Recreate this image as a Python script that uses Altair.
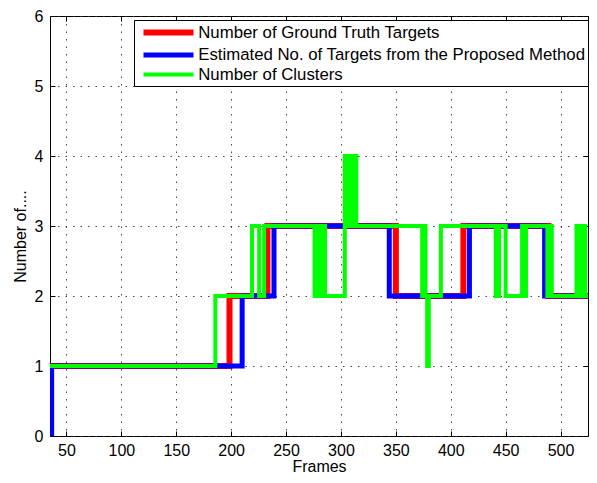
import altair as alt
import pandas as pd

# ---- data ----
x_ticks = [50, 100, 150, 200, 250, 300, 350, 400, 450, 500]
y_ticks = [0, 1, 2, 3, 4, 5, 6]

series_names = [
    "Number of Ground Truth Targets",
    "Estimated No. of Targets from the Proposed Method",
    "Number of Clusters",
]
series_colors = ["#ff0000", "#0000ff", "#00ff00"]
series_widths = [6, 4, 2]

truth_frames = [35, 198.5, 233, 350, 411.5, 489, 525]
truth_counts = [1, 2, 3, 2, 3, 2, 2]

est_frames = [35, 36.5, 210, 239, 344, 417, 485.5, 525]
est_counts = [0, 1, 2, 3, 2, 3, 2, 2]

cluster_frames = [35, 185.6, 219, 225.5, 230, 276, 279, 281, 283, 285.5,
                  303.5, 306, 307.5, 309.5, 311.5, 314, 374, 375.5, 377, 378.5,
                  380, 391, 441, 444, 450, 465, 467, 468.5, 488, 490,
                  492, 514.5, 517, 519.5, 522.5, 525]
cluster_counts = [1, 2, 3, 2, 3, 2, 3, 2, 3, 2,
                  4, 3, 4, 3, 4, 3, 2, 3, 2, 1,
                  2, 3, 2, 3, 2, 3, 2, 3, 2, 3,
                  2, 3, 2, 3, 2, 2]


def frame(frames, counts, name):
    return pd.DataFrame({"frame": frames, "count": counts, "series": [name] * len(frames)})


df_truth = frame(truth_frames, truth_counts, series_names[0])
df_est = frame(est_frames, est_counts, series_names[1])
df_clu = frame(cluster_frames, cluster_counts, series_names[2])

FONT = "Liberation Sans"

xscale = alt.Scale(domain=[35, 525], nice=False, zero=False)
yscale = alt.Scale(domain=[0, 6], nice=False, zero=True)
cscale = alt.Scale(domain=series_names, range=series_colors)
wscale = alt.Scale(domain=series_names, range=series_widths)

legend = alt.Legend(
    title=None, orient="none", legendX=84, legendY=4,
    symbolType="M-3.536,0H3.536", symbolSize=200, symbolOffset=22,
    labelOffset=19.2, labelFontSize=16.8, labelFont=FONT, labelColor="black",
    labelLimit=0, padding=2, rowPadding=0,
    strokeColor="black", fillColor="white",
)

grid_kw = dict(grid=True, gridColor="#333333", gridDash=[1.5, 6], gridWidth=1, gridOpacity=0.9)

x_main = alt.Axis(orient="bottom", values=x_ticks, ticks=False, tickSize=0, domain=False,
                  labelPadding=6, labelFontSize=16, labelFont=FONT, labelColor="black",
                  title="Frames", titleFontSize=16, titleFont=FONT, titleFontWeight="normal",
                  titleColor="black", titleBaseline="alphabetic", titleY=35.5, **grid_kw)
y_main = alt.Axis(orient="left", values=y_ticks, ticks=False, tickSize=0, domain=False,
                  labelPadding=7, labelFontSize=16, labelFont=FONT, labelColor="black",
                  title="Number of....", titleFontSize=16, titleFont=FONT, titleFontWeight="normal",
                  titleColor="black", titleBaseline="alphabetic", titleX=-25, titleY=220,
                  titleAngle=270, **grid_kw)

tick_kw = dict(labels=False, domain=False, grid=False, ticks=True, tickSize=5,
               tickColor="black", tickWidth=1, offset=-5, title=None)
x_bottom_ticks = alt.Axis(orient="bottom", values=x_ticks, **tick_kw)
y_left_ticks = alt.Axis(orient="left", values=y_ticks, **tick_kw)
x_top_ticks = alt.Axis(orient="top", values=x_ticks, **tick_kw)
y_right_ticks = alt.Axis(orient="right", values=y_ticks, **tick_kw)


def line_layer(df, xaxis, yaxis):
    return alt.Chart(df).mark_line(interpolate="step-after", clip=True, strokeJoin="miter").encode(
        x=alt.X("frame:Q", scale=xscale, axis=xaxis),
        y=alt.Y("count:Q", scale=yscale, axis=yaxis),
        color=alt.Color("series:N", scale=cscale, legend=legend),
        strokeWidth=alt.StrokeWidth("series:N", scale=wscale, legend=legend),
    )


red = line_layer(df_truth, x_main, y_main)
blue = line_layer(df_est, x_bottom_ticks, y_left_ticks)
green = line_layer(df_clu, x_top_ticks, y_right_ticks)

chart = alt.layer(red, blue, green).resolve_axis(
    x="independent", y="independent"
).properties(
    width=538, height=420,
    padding={"left": 42, "top": 8, "right": 1, "bottom": 39},
    autosize=alt.AutoSizeParams(type="none"),
    background="white",
).configure_view(stroke="black", strokeWidth=1)

chart.save("out.html", embed_options={"renderer": "svg", "actions": False})
